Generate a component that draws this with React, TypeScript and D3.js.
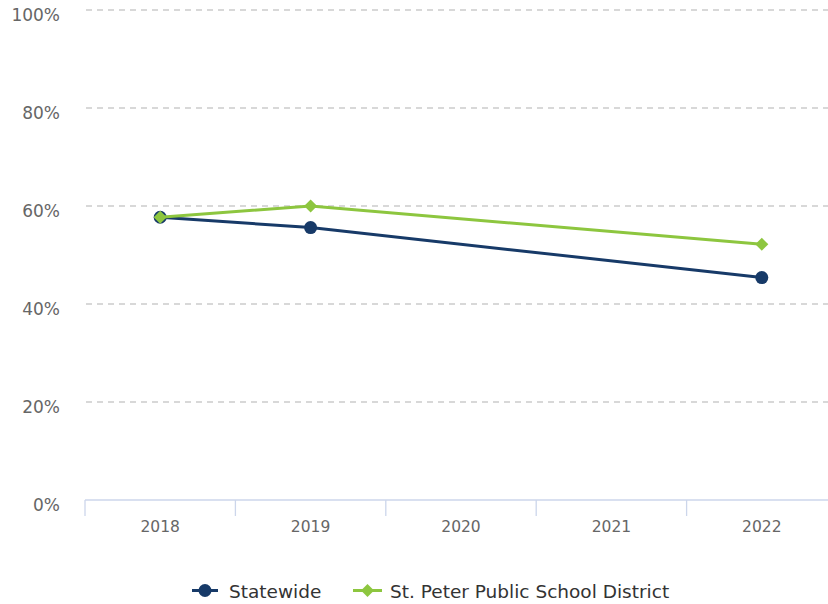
import React from "react";
import * as d3 from "d3";

const years = ["2018", "2019", "2020", "2021", "2022"];
const statewide: (number | null)[] = [57.7, 55.6, null, null, 45.4];
const district: (number | null)[] = [57.7, 60.0, null, null, 52.2];
const yTicks = [0, 20, 40, 60, 80, 100];
const seriesNames = ["Statewide", "St. Peter Public School District"];

const W = 828;
const H = 604;
const NAVY = "#173a68";
const GREEN = "#8dc63f";
const FONT = "'DejaVu Sans', Verdana, sans-serif";

export default function App() {
  const x = d3.scaleBand<string>().domain(years).range([85, 837]);
  const y = d3.scaleLinear().domain([0, 100]).range([500, 10]);
  const cx = (yr: string) => (x(yr) ?? 0) + x.bandwidth() / 2;

  const line = d3
    .line<{ yr: string; v: number }>()
    .x((d) => cx(d.yr))
    .y((d) => y(d.v));

  const pts = (arr: (number | null)[]) =>
    years
      .map((yr, i) => ({ yr, v: arr[i] }))
      .filter((d) => d.v != null) as { yr: string; v: number }[];

  const sPts = pts(statewide);
  const dPts = pts(district);
  const diamond = (px: number, py: number, r: number) =>
    `M${px},${py - r}L${px + r},${py}L${px},${py + r}L${px - r},${py}Z`;

  const boundaries = years.map((yr) => x(yr) ?? 0);

  return (
    <div style={{ position: "absolute", left: 0, top: 0 }}>
      <svg width={W} height={H} style={{ display: "block", fontFamily: FONT }}>
        <rect width={W} height={H} fill="#fff" />
        {yTicks.map((t) =>
          t === 0 ? null : (
            <line
              key={"g" + t}
              x1={86}
              x2={W}
              y1={y(t)}
              y2={y(t)}
              stroke="#cccccc"
              strokeWidth={1.3}
              strokeDasharray="6,5"
            />
          )
        )}
        {yTicks.map((t) => (
          <text
            key={"yl" + t}
            x={60}
            y={y(t) + 10.5}
            textAnchor="end"
            fontSize={17}
            fill="#666"
          >
            {t}%
          </text>
        ))}
        <line x1={85} x2={W} y1={500} y2={500} stroke="#ccd6eb" strokeWidth={1.3} />
        {boundaries.map((b, i) => (
          <line key={"t" + i} x1={b} x2={b} y1={500} y2={516} stroke="#ccd6eb" strokeWidth={1.3} />
        ))}
        {years.map((yr) => (
          <text key={"xl" + yr} x={cx(yr)} y={532} textAnchor="middle" fontSize={15.5} fill="#666">
            {yr}
          </text>
        ))}
        <path d={line(sPts) ?? ""} fill="none" stroke={NAVY} strokeWidth={3} />
        {sPts.map((d) => (
          <circle key={"s" + d.yr} cx={cx(d.yr)} cy={y(d.v)} r={6.5} fill={NAVY} />
        ))}
        <path d={line(dPts) ?? ""} fill="none" stroke={GREEN} strokeWidth={3} />
        {dPts.map((d) => (
          <path key={"d" + d.yr} d={diamond(cx(d.yr), y(d.v), 6.5)} fill={GREEN} />
        ))}
        <g>
          <line x1={192} x2={218} y1={590.5} y2={590.5} stroke={NAVY} strokeWidth={3} />
          <circle cx={205} cy={590.5} r={6.5} fill={NAVY} />
          <text x={229} y={598} fontSize={18.5} fill="#333">
            {seriesNames[0]}
          </text>
          <line x1={353} x2={382} y1={590.5} y2={590.5} stroke={GREEN} strokeWidth={3} />
          <path d={diamond(367.5, 590.5, 6.5)} fill={GREEN} />
          <text x={390} y={598} fontSize={18.5} fill="#333">
            {seriesNames[1]}
          </text>
        </g>
      </svg>
    </div>
  );
}
